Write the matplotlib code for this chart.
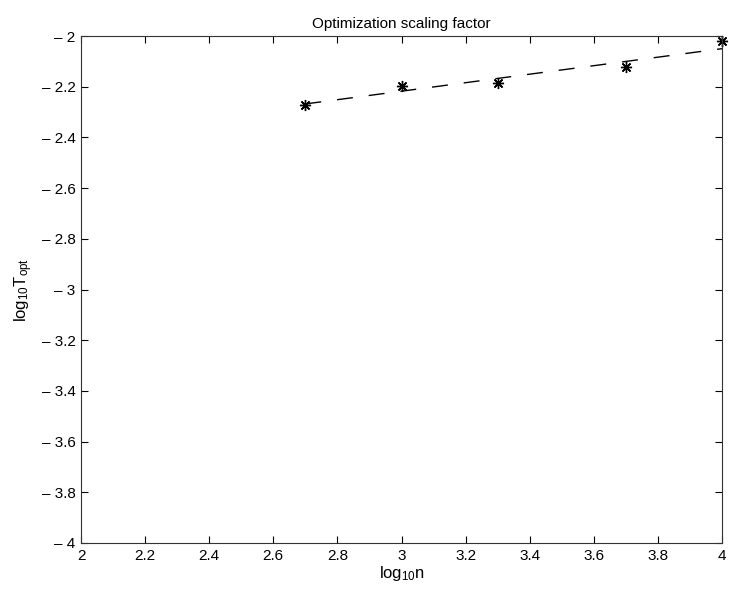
import numpy as np
import matplotlib
matplotlib.use("Agg")
import matplotlib.pyplot as plt

plt.rcParams['font.family'] = ['Liberation Sans', 'DejaVu Sans']
plt.rcParams['mathtext.fontset'] = 'custom'
plt.rcParams['mathtext.rm'] = 'Liberation Sans'
plt.rcParams['mathtext.it'] = 'Liberation Sans'

# measured points (log10 n, log10 T_opt)
log_n = [2.7, 3.0, 3.3, 3.7, 4.0]
log_t = [-2.272, -2.197, -2.184, -2.124, -2.018]

# fitted dashed line endpoints
fit_x = [2.7, 4.0]
fit_y = [-2.268, -2.050]

xticks = [2, 2.2, 2.4, 2.6, 2.8, 3, 3.2, 3.4, 3.6, 3.8, 4]
xtick_labels = ["2", "2.2", "2.4", "2.6", "2.8", "3", "3.2", "3.4", "3.6", "3.8", "4"]
yticks = [-4, -3.8, -3.6, -3.4, -3.2, -3, -2.8, -2.6, -2.4, -2.2, -2]
ytick_labels = ["\u2013 4", "\u2013 3.8", "\u2013 3.6", "\u2013 3.4", "\u2013 3.2", "\u2013 3",
                "\u2013 2.8", "\u2013 2.6", "\u2013 2.4", "\u2013 2.2", "\u2013 2"]

fig = plt.figure(figsize=(7.29, 5.90), dpi=100)
ax = fig.add_axes([81/729, 1 - 543/590, 641/729, 507/590])

ax.plot(fit_x, fit_y, color='k', lw=1.0, dashes=(11.5, 11.5))
ax.plot(log_n, log_t, ls='none', marker=(8, 2, 0), ms=8, mew=1.0, color='k',
        clip_on=False)

ax.set_xlim(2, 4)
ax.set_ylim(-4, -2)
ax.set_xticks(xticks)
ax.set_xticklabels(xtick_labels)
ax.set_yticks(yticks)
ax.set_yticklabels(ytick_labels)
ax.tick_params(direction='in', length=5, width=0.8, labelsize=11,
               top=True, right=True, pad=4)
for s in ax.spines.values():
    s.set_linewidth(0.8)
    s.set_color('#333333')

ax.set_title("Optimization scaling factor", fontsize=11, pad=6)
ax.set_xlabel(r"log$_{10}$n", fontsize=12, labelpad=1)
ax.set_ylabel(r"log$_{10}$T$_{\rm opt}$", fontsize=12, labelpad=5)

fig.savefig("out.png", dpi=100)
